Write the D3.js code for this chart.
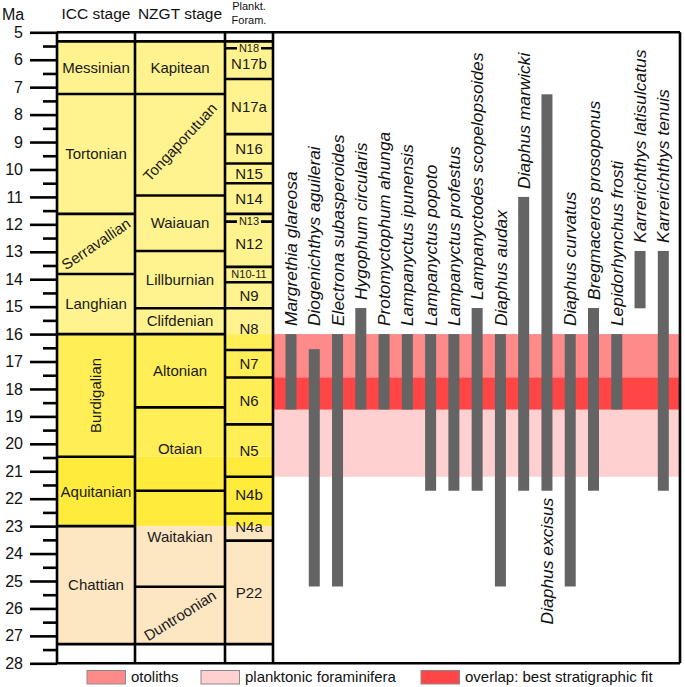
<!DOCTYPE html>
<html><head><meta charset="utf-8">
<script src="https://cdn.jsdelivr.net/npm/d3@7"></script>
<style>
html,body{margin:0;padding:0;background:#fff;}
svg text{font-family:"Liberation Sans",Arial,sans-serif;}
</style></head>
<body>
<svg id="chart" width="685" height="687"></svg>
<script>
// ---------- DATA ----------
const ageTicks = d3.range(5, 29);
const minorTicks = d3.range(5.5, 28, 1);

const iccStages = ["Messinian","Tortonian","Serravallian","Langhian","Burdigalian","Aquitanian","Chattian"];
const iccTops   = [5.33, 7.25, 11.62, 13.81, 16.0, 20.47, 23.0];
const iccBases  = [7.25, 11.62, 13.81, 16.0, 20.47, 23.0, 27.3];

const nzStages = ["Kapitean","Tongaporutuan","Waiauan","Lillburnian","Clifdenian","Altonian","Otaian","Waitakian","Duntroonian"];
const nzTops   = [5.33, 7.25, 10.95, 12.97, 15.06, 16.0, 18.67, 21.71, 25.21];
const nzBases  = [7.25, 10.95, 12.97, 15.06, 16.0, 18.67, 21.71, 25.21, 27.3];

const pfZones = ["N18","N17b","N17a","N16","N15","N14","N13","N12","N10-11","N9","N8","N7","N6","N5","N4b","N4a","P22"];
const pfTops  = [5.33, 5.58, 6.70, 8.71, 9.78, 10.50, 11.62, 11.90, 13.55, 14.11, 15.06, 16.58, 17.58, 19.29, 21.20, 22.54, 23.53];
const pfBases = [5.58, 6.70, 8.71, 9.78, 10.50, 11.62, 11.90, 13.55, 14.11, 15.06, 16.58, 17.58, 19.29, 21.20, 22.54, 23.53, 27.3];

const colourBandAges = [5.33, 16.0, 20.47, 23.0, 27.3];

const taxa = ["Margrethia glareosa","Diogenichthys aguilerai","Electrona subasperoides","Hygophum circularis",
  "Protomyctophum ahunga","Lampanyctus ipunensis","Lampanyctus popoto","Lampanyctus profestus",
  "Lampanyctodes scopelopsoides","Diaphus audax","Diaphus marwicki","Diaphus excisus","Diaphus curvatus",
  "Bregmaceros prosoponus","Lepidorhynchus frosti","Karrerichthys latisulcatus","Karrerichthys tenuis"];
const taxaTop  = [16.0, 16.55, 16.0, 15.05, 16.0, 16.0, 16.0, 16.0, 15.05, 16.0, 11.0, 7.26, 16.0, 15.05, 16.0, 12.97, 12.97];
const taxaBase = [18.75, 25.2, 25.2, 18.75, 18.75, 18.75, 21.71, 21.71, 21.71, 25.2, 21.71, 21.71, 25.2, 21.71, 18.75, 15.06, 21.71];

const otolithRange = [16.0, 18.75];
const foramRange   = [17.58, 21.2];
const overlapRange = [17.58, 18.75];

const legendLabels = ["otoliths","planktonic foraminifera","overlap: best stratigraphic fit"];

// ---------- LAYOUT ----------
const svg = d3.select("#chart");
const y = d3.scaleLinear().domain([5, 28]).range([32.3, 663.3]);
const colX = {icc:[57,135], nz:[135,225], pf:[225,273], panel:[273,680]};
const xTaxa = d3.scalePoint().domain(taxa).range([291, 663.3]);
const bandColours = ["#FFF38F","#FFEE55","#FFEB3C","#FDE6C2"];
const LW = 2.6;

// background colour bands for stage columns
const bands = d3.range(colourBandAges.length - 1).map(i => ({a: colourBandAges[i], b: colourBandAges[i+1], c: bandColours[i]}));
svg.append("g").selectAll("rect").data(bands).join("rect")
  .attr("x", colX.icc[0]).attr("width", colX.pf[1] - colX.icc[0])
  .attr("y", d => y(d.a)).attr("height", d => y(d.b) - y(d.a))
  .attr("fill", d => d.c);

// range bands in taxa panel
const rangeG = svg.append("g");
[[otolithRange,"#FF8A8A"],[foramRange,"#FFD0D0"],[overlapRange,"#FF4545"]].forEach(([r,c]) => {
  rangeG.append("rect").attr("x", colX.panel[0]).attr("width", colX.panel[1]-colX.panel[0])
    .attr("y", y(r[0])).attr("height", y(r[1]) - y(r[0])).attr("fill", c);
});

// taxa bars
svg.append("g").selectAll("rect").data(taxa).join("rect")
  .attr("x", d => xTaxa(d) - 5.5).attr("width", 11)
  .attr("y", (d,i) => y(taxaTop[i])).attr("height", (d,i) => y(taxaBase[i]) - y(taxaTop[i]))
  .attr("fill", "#646464");

// taxa labels
svg.append("g").selectAll("text").data(taxa).join("text")
  .attr("transform", (d,i) => {
    const below = d === "Diaphus excisus";
    const yy = below ? y(taxaBase[i]) + 7 : y(Math.min(taxaTop[i], 16.0)) - 8;
    return `translate(${xTaxa(d)},${yy}) rotate(-90)`;
  })
  .attr("text-anchor", d => d === "Diaphus excisus" ? "end" : "start")
  .attr("dy", "0.35em")
  .attr("font-size", 17.4).attr("font-style", "italic").attr("fill", "#111")
  .text(d => d);

// boundary lines helper
function drawColumn(x0, x1, tops, bases) {
  const g = svg.append("g").attr("stroke", "#000").attr("stroke-width", LW);
  const edges = Array.from(new Set(tops.concat(bases)));
  g.selectAll("line").data(edges).join("line")
    .attr("x1", x0).attr("x2", x1).attr("y1", d => y(d)).attr("y2", d => y(d));
}
drawColumn(colX.icc[0], colX.icc[1], iccTops, iccBases);
drawColumn(colX.nz[0], colX.nz[1], nzTops, nzBases);
drawColumn(colX.pf[0], colX.pf[1], pfTops, pfBases);

// vertical column lines and frame
const vg = svg.append("g").attr("stroke", "#000").attr("stroke-width", LW);
[colX.icc[0], colX.icc[1], colX.nz[1], colX.pf[1], colX.panel[1]].forEach(x => {
  vg.append("line").attr("x1", x).attr("x2", x).attr("y1", y(5)).attr("y2", y(28));
});
vg.append("line").attr("x1", colX.icc[0]).attr("x2", colX.panel[1]).attr("y1", y(5)).attr("y2", y(5));
vg.append("line").attr("x1", colX.icc[0]).attr("x2", colX.panel[1]).attr("y1", y(28)).attr("y2", y(28));

// stage labels
const rot = {"Serravallian":-34, "Tongaporutuan":-47, "Duntroonian":-32, "Burdigalian":-90};
const labelAge = {"Waitakian": 23.39, "Tongaporutuan": 9.0};
function labels(names, tops, bases, xr, size) {
  svg.append("g").selectAll("text").data(names).join("text")
    .attr("transform", (d,i) => {
      const cy = labelAge[d] !== undefined ? y(labelAge[d]) : (y(tops[i]) + y(bases[i])) / 2;
      const cx = (xr[0] + xr[1]) / 2;
      return `translate(${cx},${cy}) rotate(${rot[d] || 0})`;
    })
    .attr("text-anchor", "middle").attr("dy", "0.35em")
    .attr("font-size", size).attr("fill", "#1a1a1a").text(d => d);
}
labels(iccStages, iccTops, iccBases, colX.icc, 15);
labels(nzStages, nzTops, nzBases, colX.nz, 15);

// foram zone labels
const smallZones = ["N18","N13","N10-11"];
const inlineZones = {"N18": 5.58, "N13": 11.90};
const pg = svg.append("g");
pfZones.forEach((z,i) => {
  const cx = (colX.pf[0] + colX.pf[1]) / 2;
  const small = smallZones.includes(z);
  const cy = inlineZones[z] !== undefined ? y(inlineZones[z]) : (y(pfTops[i]) + y(pfBases[i])) / 2;
  if (inlineZones[z] !== undefined) {
    pg.append("rect").attr("x", cx - 12).attr("width", 24).attr("y", cy - 5).attr("height", 10).attr("fill", bandColours[0]);
  }
  pg.append("text").attr("x", cx).attr("y", cy).attr("dy", "0.35em").attr("text-anchor", "middle")
    .attr("font-size", small ? 11 : 15).attr("fill", "#1a1a1a").text(z);
});

// axis
const axisG = svg.append("g").attr("transform", `translate(${colX.icc[0]},0)`)
  .call(d3.axisLeft(y).tickValues(ageTicks).tickSize(27).tickPadding(7).tickFormat(d3.format("d")));
axisG.select(".domain").remove();
axisG.selectAll(".tick line").attr("stroke", "#000").attr("stroke-width", LW);
axisG.selectAll(".tick text").attr("font-size", 16).attr("fill", "#111").attr("font-family", "Liberation Sans, Arial, sans-serif");
const minorG = svg.append("g").attr("transform", `translate(${colX.icc[0]},0)`)
  .call(d3.axisLeft(y).tickValues(minorTicks).tickSize(14).tickFormat(""));
minorG.select(".domain").remove();
minorG.selectAll(".tick line").attr("stroke", "#000").attr("stroke-width", LW);

// headers
const hg = svg.append("g").attr("fill", "#111");
hg.append("text").attr("x", 2).attr("y", 14).attr("dy", "0.35em").attr("font-size", 16).text("Ma");
hg.append("text").attr("x", 96).attr("y", 14).attr("dy", "0.35em").attr("text-anchor", "middle").attr("font-size", 15.5).text("ICC stage");
hg.append("text").attr("x", 180).attr("y", 14).attr("dy", "0.35em").attr("text-anchor", "middle").attr("font-size", 15.5).text("NZGT stage");
hg.append("text").attr("x", 249).attr("y", 6).attr("dy", "0.35em").attr("text-anchor", "middle").attr("font-size", 11).text("Plankt.");
hg.append("text").attr("x", 249).attr("y", 20).attr("dy", "0.35em").attr("text-anchor", "middle").attr("font-size", 11).text("Foram.");

// legend
const legendColours = ["#FF8A8A","#FFD0D0","#FF4545"];
const legendX = [87, 201, 421];
const lg = svg.append("g");
legendLabels.forEach((t,i) => {
  lg.append("rect").attr("x", legendX[i]).attr("y", 670.5).attr("width", 38.5).attr("height", 13.5)
    .attr("fill", legendColours[i]).attr("stroke", "#8a8a8a").attr("stroke-width", 1);
  lg.append("text").attr("x", legendX[i] + 44).attr("y", 677).attr("dy", "0.35em")
    .attr("font-size", 15).attr("fill", "#111").text(t);
});
</script>
</body></html>
